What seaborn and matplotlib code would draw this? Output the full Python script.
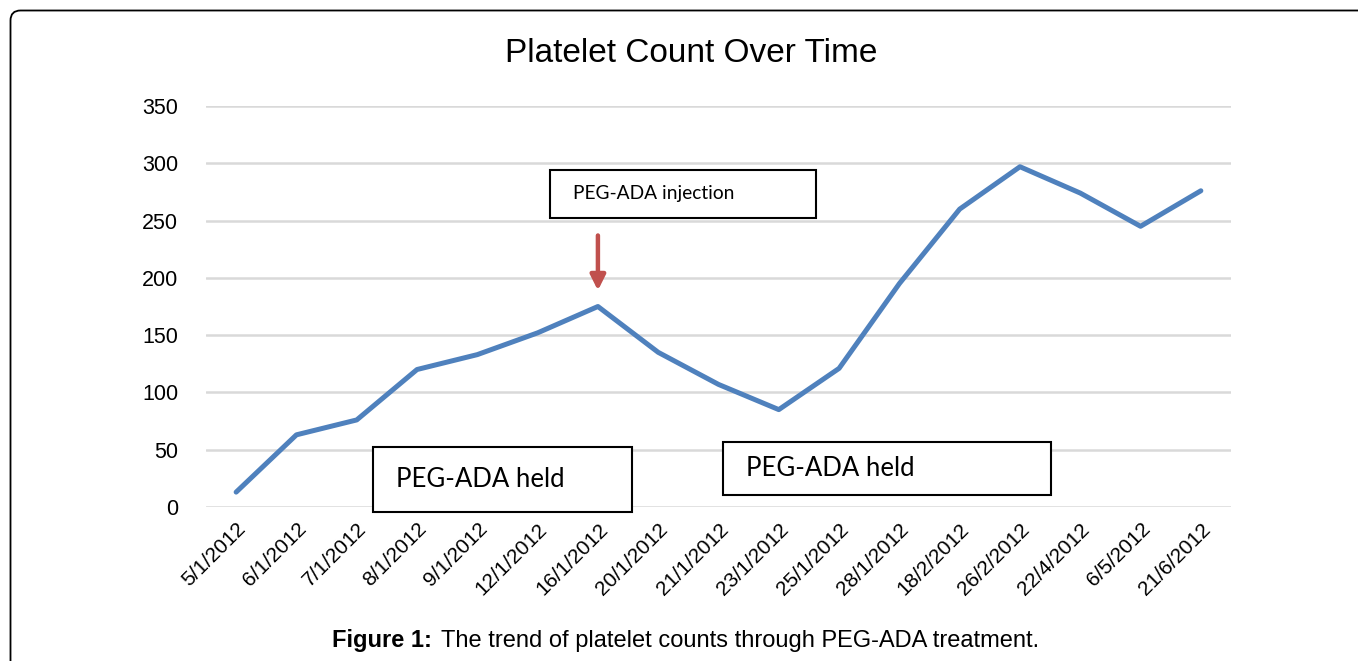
import matplotlib
matplotlib.use("Agg")
import matplotlib.pyplot as plt
import seaborn as sns
import pandas as pd
from matplotlib.patches import Rectangle, FancyBboxPatch

fechas = ["5/1/2012", "6/1/2012", "7/1/2012", "8/1/2012", "9/1/2012",
          "12/1/2012", "16/1/2012", "20/1/2012", "21/1/2012", "23/1/2012",
          "25/1/2012", "28/1/2012", "18/2/2012", "26/2/2012", "22/4/2012",
          "6/5/2012", "21/6/2012"]
plaquetas = [13, 63, 76, 120, 133, 152, 175, 135, 107, 85, 121, 195,
             260, 297, 274, 245, 276]
y_ticks = [0, 50, 100, 150, 200, 250, 300, 350]

df = pd.DataFrame({"Fecha": fechas, "Plaquetas": plaquetas})

sns.set_style("white")
plt.rcParams["font.family"] = ["Liberation Sans", "DejaVu Sans"]
plt.rcParams["text.color"] = "black"
plt.rcParams["xtick.color"] = "black"
plt.rcParams["ytick.color"] = "black"

W, H = 1358, 661
fig = plt.figure(figsize=(W / 100, H / 100), dpi=100)
ax = fig.add_axes([206 / W, 1 - 507 / H, (1231 - 206) / W, (507 - 106) / H])

sns.lineplot(data=df, x="Fecha", y="Plaquetas", sort=False, ax=ax,
             color="#4f81bd", linewidth=3.6, clip_on=False)

ax.set_xlim(-0.5, len(fechas) - 0.5)
ax.set_ylim(0, 350)
ax.set_yticks(y_ticks)
ax.set_yticklabels([str(v) for v in y_ticks], fontsize=15.5)
ax.grid(axis="y", color="#d9d9d9", linewidth=1.8)
ax.set_axisbelow(True)
for s in ax.spines.values():
    s.set_visible(False)
ax.tick_params(axis="both", length=0, pad=20)
ax.tick_params(axis="x", pad=9)
ax.set_xticks(range(len(fechas)))
ax.set_xticklabels(fechas, rotation=45, ha="right", rotation_mode="anchor",
                   fontsize=15)
ax.set_xlabel("")
ax.set_ylabel("")

# flecha de la inyeccion
ax.annotate("", xy=(6, 189), xytext=(6, 237),
            arrowprops=dict(arrowstyle="-|>,head_width=0.45,head_length=0.9",
                            color="#c0504d", lw=3.2, shrinkA=0, shrinkB=0))

# cajas de texto
def caja(x0, y0, x1, y1, texto, tam):
    fig.add_artist(Rectangle((x0 / W, 1 - y1 / H), (x1 - x0) / W, (y1 - y0) / H,
                             transform=fig.transFigure, fill=True,
                             facecolor="white", edgecolor="black", lw=1.5,
                             zorder=5))
    fig.text((x0 + 23) / W, 1 - ((y0 + y1) / 2) / H, texto, fontsize=tam,
             family=["Lato", "DejaVu Sans"], va="center", ha="left", zorder=6)

caja(550, 170, 816, 218, "PEG-ADA injection", 13.8)
caja(373, 447, 632, 512, "PEG-ADA held", 18.5)
caja(723, 442, 1051, 495, "PEG-ADA held", 18.5)

fig.text(691 / W, 1 - 54 / H, "Platelet Count Over Time", fontsize=24,
         ha="center", va="center")

fig.text(332 / W, 1 - 641 / H, "Figure 1:", fontsize=17, weight="bold",
         ha="left", va="center")
fig.text(441 / W, 1 - 641 / H, "The trend of platelet counts through PEG-ADA treatment.",
         fontsize=17, ha="left", va="center")

# marco de la figura
fig.add_artist(FancyBboxPatch((0.105, -0.5), 14.5, 7.005,
                              boxstyle="round,pad=0,rounding_size=0.1",
                              transform=fig.dpi_scale_trans, fill=False,
                              edgecolor="black", lw=1.3))

fig.savefig("out.png", dpi=100)
